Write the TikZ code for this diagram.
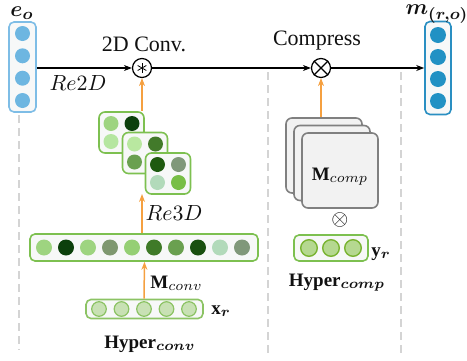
\documentclass[tikz,border=0pt]{standalone}
\usepackage{amsmath}
\usepackage{fontspec}
\setmainfont{Liberation Serif}
\usetikzlibrary{arrows.meta}
\DeclareMathSizes{9}{9}{8.6}{6.5}
\DeclareMathSizes{10.5}{10.5}{8.5}{6.5}
\DeclareMathSizes{11}{11}{9}{7}
\definecolor{txt}{HTML}{111111}
\definecolor{eob}{HTML}{7EBDE6}
\definecolor{eoc}{HTML}{6DB6E1}
\definecolor{mb}{HTML}{2A8FC2}
\definecolor{mc}{HTML}{2191C4}
\definecolor{gb}{HTML}{7DC050}
\definecolor{bg}{HTML}{F7F8F8}
\definecolor{xrf}{HTML}{C8E1B4}
\definecolor{xrb}{HTML}{8CC364}
\definecolor{yrf}{HTML}{B5D890}
\definecolor{yrb}{HTML}{7AB432}
\definecolor{cmpf}{HTML}{F2F2F2}
\definecolor{cmpb}{HTML}{808080}
\definecolor{org}{HTML}{F5A040}
\definecolor{dsh}{HTML}{D4D4D4}
\definecolor{gA}{HTML}{9ED480}
\definecolor{gB}{HTML}{0C400C}
\definecolor{gC}{HTML}{B5E6A0}
\definecolor{gD}{HTML}{7F9870}
\definecolor{gE}{HTML}{95CF74}
\definecolor{gF}{HTML}{3F7A28}
\definecolor{gG}{HTML}{6AA050}
\definecolor{gH}{HTML}{1A5010}
\definecolor{gI}{HTML}{B2DABA}
\definecolor{gJ}{HTML}{80987A}
\definecolor{gK}{HTML}{B9E8A0}
\definecolor{gL}{HTML}{427A2A}
\definecolor{gM}{HTML}{1E5A0F}
\definecolor{gN}{HTML}{78BE46}
\tikzset{
  vbox/.style={draw, rounded corners=2.5pt, line width=0.8pt, fill=bg, inner sep=0pt},
  dot/.style={circle, inner sep=0pt, minimum size=7.5pt},
  opc/.style={circle, draw=black, line width=0.6pt, fill=white, minimum size=9.5pt, inner sep=0pt},
  cmp/.style={draw=cmpb, fill=cmpf, rounded corners=3pt, line width=0.8pt, minimum width=38pt, minimum height=37.5pt, inner sep=0pt},
  mat/.style={vbox, draw=gb, rounded corners=3pt, minimum width=22.5pt, minimum height=20.5pt},
  blk/.style={-{Stealth[length=4pt,width=3pt]}, line width=0.6pt, black},
  ora/.style={-{Stealth[length=4pt,width=3pt]}, line width=0.75pt, org},
  dline/.style={dsh, line width=1pt, dash pattern=on 4pt off 2.5pt},
  lbl/.style={text=txt, inner sep=0pt}
}
\begin{document}
\begin{tikzpicture}[x=0.5pt,y=-0.5pt]
\useasboundingbox (0,0) rectangle (467,360);
% dashed guides
\draw[dline] (19,115) -- (19,350);
\draw[dline] (268,72) -- (268,357);
\draw[dline] (401,72) -- (401,355);
% e_o
\node[vbox, draw=eob, minimum width=13.5pt, minimum height=45pt] (eo) at (22.5,67) {};
\foreach \y [count=\i] in {33.5,55.8,78.2,100.5}
  \node[dot, fill=eoc] (eo\i) at (22.5,\y) {};
\node[lbl, font=\fontsize{10.5}{12}\selectfont] (eol) at (22,13) {$\boldsymbol{e}_{\boldsymbol{o}}$};
% m_(r,o)
\node[vbox, draw=mb, minimum width=13pt, minimum height=46.5pt] (m) at (438,68) {};
\foreach \y [count=\i] in {35,57,79,101}
  \node[dot, fill=mc, minimum size=8pt] (m\i) at (438,\y) {};
\node[lbl, font=\fontsize{10.5}{12}\selectfont] (ml) at (437,14) {$\boldsymbol{m}_{\boldsymbol{(r,o)}}$};
% operators
\node[opc] (conv) at (142,68) {};
\foreach \a in {90,30,150}
  \draw[line width=0.4pt] ([shift={(\a:5)}]conv.center) -- ([shift={(\a+180:5)}]conv.center);
\node[opc] (comp) at (321,68) {};
\draw[line width=0.6pt] (comp.north west) -- (comp.south east) (comp.north east) -- (comp.south west);
% main arrows
\draw[blk] (eo.east |- conv) -- (conv);
\draw[blk] (conv) -- (comp);
\draw[blk] (comp) -- (m.west |- comp);
% labels top
\node[lbl, font=\fontsize{11}{13}\selectfont] (l2d) at (144,44) {2D Conv.};
\node[lbl, font=\fontsize{11}{13}\selectfont] (lcp) at (317,41) {Compress};
\node[lbl, font=\fontsize{10.5}{12}\selectfont] (re2) at (78,83) {$Re2D$};
% matrices
\node[mat] (mat1) at (121.5,132.5) {};
\foreach \dx/\dy/\c in {-10.5/-9/gA,10.5/-9/gB,-10.5/9/gC,10.5/9/gC}
  \node[dot, fill=\c] at ([shift={(\dx,\dy)}]mat1) {};
\node[mat] (mat2) at (145,153) {};
\foreach \dx/\dy/\c in {-10.5/-9/gK,10.5/-9/gL,-10.5/9/gG,10.5/9/gG}
  \node[dot, fill=\c] at ([shift={(\dx,\dy)}]mat2) {};
\node[mat] (mat3) at (168,173.5) {};
\foreach \dx/\dy/\c in {-10.5/-9/gM,10.5/-9/gJ,-10.5/9/gI,10.5/9/gN}
  \node[dot, fill=\c] at ([shift={(\dx,\dy)}]mat3) {};
\draw[ora] (mat1.north -| conv) -- (conv);
\node[lbl, font=\fontsize{10.5}{12}\selectfont] (re3) at (174,213) {$Re3D$};
% long vector
\node[vbox, draw=gb, minimum width=114pt, minimum height=13.5pt] (vec) at (144,247.5) {};
\foreach \c [count=\i from 0] in {gA,gB,gA,gD,gE,gF,gG,gH,gI,gJ}
  \node[dot, fill=\c, minimum size=8pt] (v\i) at (44+22*\i,247.5) {};
\coordinate (m3in) at (142,194);
\draw[ora] (vec.north -| m3in) -- (m3in);
% x_r
\node[vbox, draw=xrb, minimum width=58.5pt, minimum height=9.5pt] (xr) at (144.5,309) {};
\foreach \i in {0,...,4}
  \node[dot, fill=xrf, draw=xrb, line width=0.6pt, minimum size=7.3pt] (x\i) at (99+22.5*\i,309) {};
\draw[ora] (xr.north -| vec) -- (vec.south -| xr);
\node[lbl, font=\fontsize{9.5}{11}\selectfont, anchor=west] (mcv) at (150,283) {$\mathbf{M}_{conv}$};
\node[lbl, font=\fontsize{9.5}{11}\selectfont, anchor=west] (xrl) at (211,311) {$\mathbf{x}_{\boldsymbol{r}}$};
\node[lbl, font=\fontsize{9.5}{11}\selectfont] (hcv) at (150,344) {\textbf{Hyper}$_{\boldsymbol{conv}}$};
% compress stack
\node[cmp] (cmp1) at (324,155.5) {};
\node[cmp] (cmp2) at (332,163) {};
\node[cmp] (cmp3) at (340,170.5) {};
\node[lbl, font=\fontsize{9.5}{11}\selectfont] (mcp) at (340,177) {$\mathbf{M}_{comp}$};
\draw[ora] (cmp1.north -| comp) -- (comp);
\node[lbl, font=\fontsize{11}{13}\selectfont] (otm) at (340,220) {$\otimes$};
% y_r
\node[vbox, draw=gb, minimum width=37pt, minimum height=13pt] (yr) at (331,248) {};
\foreach \i in {0,1,2}
  \node[dot, fill=yrf, draw=yrb, line width=0.7pt, minimum size=8.3pt] (y\i) at (309+22*\i,248) {};
\node[lbl, font=\fontsize{9.5}{11}\selectfont, anchor=west] (yrl) at (371,254) {$\mathbf{y}_{\boldsymbol{r}}$};
\node[lbl, font=\fontsize{9.5}{11}\selectfont] (hcp) at (337,283) {\textbf{Hyper}$_{\boldsymbol{comp}}$};
\end{tikzpicture}
\end{document}
